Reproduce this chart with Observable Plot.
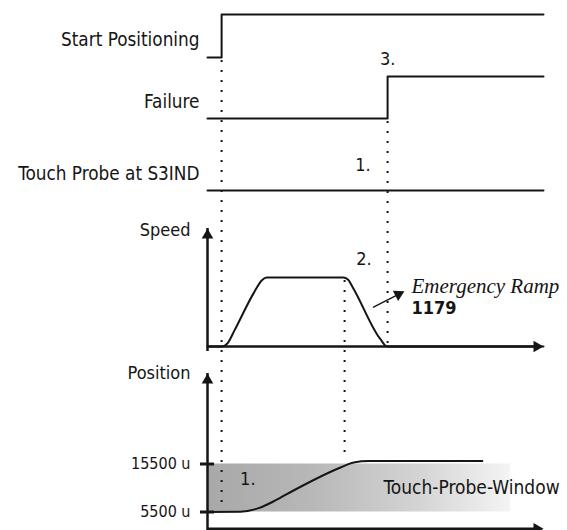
<!DOCTYPE html>
<html><head><meta charset="utf-8">
<script src="https://cdn.jsdelivr.net/npm/d3@7"></script>
<script src="https://cdn.jsdelivr.net/npm/@observablehq/plot@0.6"></script>
<style>
html,body{margin:0;padding:0;background:#fff;}
#chart{position:relative;width:567px;height:530px;overflow:hidden;background:#fff;}
#chart svg{position:absolute;left:0;top:0;}
</style></head><body><div id="chart"></div>
<script>
// ---------------- data ----------------
const tEnd = 100;                       // time axis (arbitrary units)
const signalNames = ["Start Positioning", "Failure", "Touch Probe at S3IND"];
const startT = [0, 4.2, 100];   const startLevel = [0, 1, 1];
const failT  = [0, 53.6, 100];  const failLevel  = [0, 1, 1];
const touchT = [0, 100];        const touchLevel = [0, 0];

const speedT = [0, 4.2, 6.0, 8.0, 13.7, 16.2, 17.6, 40.4, 41.8, 43.2, 51.4, 53.5, 100];
const speedV = [0, 0, 5, 23, 77, 96, 100, 100, 97, 86, 11, 0, 0];
const speedAxisTop = 171;

const posT = [0, 9.8, 15.2, 20.2, 25.6, 39.6, 43.5, 48, 81.8];
const posV = [5500, 5560, 6300, 7900, 9980, 14770, 15800, 16100, 16100];
const posTicks = [5500, 15500];
const posAxisBottom = 2000, posAxisTop = 34350;
const windowT = [0, 90.2];
const windowPos = [5500, 15500];

const eventT = {start: 4.2, decel: 40.8, fail: 53.6};
const stepLabels = ["1.", "2.", "3."];
const rampLabel = "Emergency Ramp", rampParam = "1179";
const windowLabel = "Touch-Probe-Window";

// ---------------- layout ----------------
const W = 567, H = 530, ML = 207, MR = 24;
const font = "'DejaVu Sans Condensed','DejaVu Sans',sans-serif";
const ink = "#151515";
const chart = document.getElementById("chart");

function panel(y, marks) {
  return Plot.plot({
    width: W, height: H, marginLeft: ML, marginRight: MR, marginTop: 0, marginBottom: 0,
    x: {domain: [0, tEnd], axis: null},
    y: {...y, axis: null},
    style: {background: "transparent", fontFamily: font, fontStretch: "condensed", overflow: "visible", color: ink},
    marks
  });
}
const zip = (ts, vs) => ts.map((t, i) => ({t, v: vs[i]}));
const tri = (pts, opts) => Plot.dot(pts, {x: "t", y: "v", symbol: "triangle", r: 4.3, fill: ink, stroke: "none", ...opts});
const label = (txt, v, opts = {}) => Plot.text([txt], {text: d => d, y: () => v, frameAnchor: "left", textAnchor: "end", dx: -8, fontSize: 18, fill: ink, ...opts});

function signalPanel(name, ts, levels, range, extra = []) {
  return panel({domain: [0, 1], range}, [
    Plot.line(zip(ts, levels), {x: "t", y: "v", curve: "step-after", stroke: ink, strokeWidth: 2}),
    label(name, 0.4, {fontSize: 18.8}),
    ...extra
  ]);
}

// ---------- position panel ----------
const posPlot = panel({domain: [5500, 15500], range: [511.5, 463.5]}, [
  Plot.rect([{x1: windowT[0], x2: windowT[1], y1: windowPos[0], y2: windowPos[1]}],
    {x1: "x1", x2: "x2", y1: "y1", y2: "y2", fill: "url(#tpwGrad)"}),
  Plot.ruleX([{t: 0, a: posAxisBottom, b: posAxisTop}], {x: "t", y1: "a", y2: "b", stroke: ink, strokeWidth: 2.5, insetTop: 5}),
  tri([{t: 0, v: posAxisTop}], {dy: 6.67}),
  Plot.ruleY([{v: posAxisBottom}], {y: "v", x1: () => 0, x2: () => tEnd, stroke: ink, strokeWidth: 2.5, insetRight: 5}),
  tri([{t: tEnd, v: posAxisBottom}], {rotate: 90, dx: -6.67}),
  Plot.ruleY(posTicks, {y: d => d, x1: () => -2.1, x2: () => 2.1, stroke: ink, strokeWidth: 3}),
  Plot.axisY({ticks: posTicks, tickSize: 0, tickPadding: 17, tickFormat: d => `${d} u`, fontSize: 16, label: null, fill: ink}),
  Plot.line(zip(posT, posV), {x: "t", y: "v", curve: "monotone-x", stroke: ink, strokeWidth: 2}),
  label("Position", posAxisTop, {dx: -17}),
  Plot.text([stepLabels[0]], {text: d => d, x: () => 12, y: () => 12300, fontSize: 18, fill: ink}),
  Plot.text([windowLabel], {text: d => d, x: () => 52.4, y: () => 10600, textAnchor: "start", fontSize: 19, fill: ink})
]);
// gradient definition for the touch-probe window
d3.select(posPlot).insert("defs", ":first-child").html(
  `<linearGradient id="tpwGrad" x1="0" x2="1" y1="0" y2="0">
     <stop offset="0" stop-color="#a8a8a8"/>
     <stop offset="0.35" stop-color="#b8b8b8"/>
     <stop offset="0.7" stop-color="#d4d4d4"/>
     <stop offset="1" stop-color="#f4f4f4"/>
   </linearGradient>`);

// ---------- speed panel ----------
const sx = d3.scaleLinear([0, tEnd], [ML, W - MR]);
const sy = d3.scaleLinear([0, 100], [346, 277]);
const rampTail = {t: 49.4, v: 57}, rampTip = {t: 58.6, v: 80};
const px0 = [sx(rampTail.t), sy(rampTail.v)], px1 = [sx(rampTip.t), sy(rampTip.v)];
const ang = Math.atan2(px1[1] - px0[1], px1[0] - px0[0]);
const rampBase = {t: sx.invert(px1[0] - 10 * Math.cos(ang)), v: sy.invert(px1[1] - 10 * Math.sin(ang))};

const speedPlot = panel({domain: [0, 100], range: [346, 277]}, [
  Plot.ruleX([{t: 0, a: 0, b: speedAxisTop}], {x: "t", y1: "a", y2: "b", stroke: ink, strokeWidth: 2.5, insetTop: 5}),
  tri([{t: 0, v: speedAxisTop}], {dy: 6.67}),
  Plot.ruleY([{v: 0}], {y: "v", x1: () => 0, x2: () => tEnd, stroke: ink, strokeWidth: 2.5, insetRight: 5}),
  tri([{t: tEnd, v: 0}], {rotate: 90, dx: -6.67}),
  Plot.line(zip(speedT, speedV), {x: "t", y: "v", curve: "monotone-x", stroke: ink, strokeWidth: 2}),
  label("Speed", 169, {dx: -17}),
  Plot.text([stepLabels[1]], {text: d => d, x: () => eventT.fail, y: () => 127, textAnchor: "end", dx: -16, fontSize: 18, fill: ink}),
  Plot.line([rampTail, rampBase], {x: "t", y: "v", stroke: ink, strokeWidth: 1.4}),
  tri([rampTip], {rotate: ang * 180 / Math.PI + 90, dx: -6.67 * Math.cos(ang), dy: -6.67 * Math.sin(ang)}),
  Plot.text([rampLabel], {text: d => d, x: () => 60.7, y: () => 87, textAnchor: "start", fontFamily: "'Liberation Serif', serif", fontStyle: "italic", fontSize: 21, fill: ink}),
  Plot.text([rampParam], {text: d => d, x: () => 60.7, y: () => 56, textAnchor: "start", fontWeight: "bold", fontSize: 18, fill: ink})
]);

// ---------- signal panels ----------
const startPlot = signalPanel(signalNames[0], startT, startLevel, [57, 14]);
const failPlot = signalPanel(signalNames[1], failT, failLevel, [118, 76], [
  Plot.text([stepLabels[2]], {text: d => d, x: () => eventT.fail, y: () => 1.41, fontSize: 18, fill: ink})
]);
const touchPlot = signalPanel(signalNames[2], touchT, touchLevel, [190, 148], [
  Plot.text([stepLabels[0]], {text: d => d, x: () => eventT.fail, y: () => 0.6, textAnchor: "end", dx: -17, fontSize: 18, fill: ink})
]);

// ---------- dotted event markers (span panels) ----------
const Y = p => p.scale("y");
const events = [
  {t: eventT.start, y1: Y(startPlot).apply(0), y2: Y(posPlot).apply(5500)},
  {t: eventT.fail,  y1: Y(failPlot).apply(0),  y2: Y(speedPlot).apply(0)},
  {t: eventT.decel, y1: Y(speedPlot).apply(100), y2: Y(posPlot).apply(16100)}
];
const dotPlot = Plot.plot({
  width: W, height: H, marginLeft: ML, marginRight: MR, marginTop: 0, marginBottom: 0,
  x: {domain: [0, tEnd], axis: null},
  y: {type: "identity", axis: null},
  style: {background: "transparent", overflow: "visible"},
  marks: [Plot.ruleX(events, {x: "t", y1: "y1", y2: "y2", stroke: ink, strokeWidth: 2, strokeDasharray: "2,8", insetTop: 3, insetBottom: 3})]
});

for (const p of [posPlot, speedPlot, startPlot, failPlot, touchPlot, dotPlot]) chart.appendChild(p);
</script></body></html>
